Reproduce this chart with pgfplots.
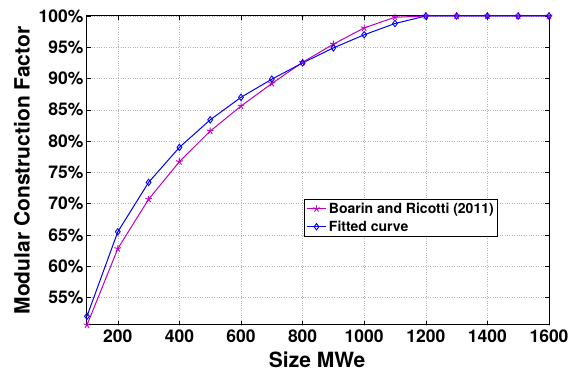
\documentclass[border=0pt]{standalone}
\usepackage{pgfplots}
\pgfplotsset{compat=1.18}
\usepackage{fontspec}
\setmainfont{TeX Gyre Heros}
\definecolor{mag}{rgb}{0.75,0,0.75}
\begin{document}
\begin{tikzpicture}
\begin{axis}[
  scale only axis,
  width=462pt, height=309pt,
  xmin=100, xmax=1600, ymin=50.6, ymax=100,
  xtick={200,400,...,1600},
  ytick={55,60,...,100},
  yticklabels={55\%,60\%,65\%,70\%,75\%,80\%,85\%,90\%,95\%,100\%},
  /pgf/number format/assume math mode=true,
  /pgf/number format/1000 sep={},
  tick label style={font=\fontsize{17.5}{18}\selectfont\bfseries},
  xticklabel style={yshift=-1pt},
  label style={font=\fontsize{21}{22}\selectfont\bfseries},
  xlabel={Size MWe},
  ylabel={Modular Construction Factor},
  xlabel style={at={(axis description cs:0.498,-0.113)}, anchor=center, inner sep=0pt},
  ylabel style={at={(axis description cs:-0.141,0.5)}, anchor=center, inner sep=0pt},
  grid=major,
  grid style={gray!60, dotted},
  tick align=inside,
  axis line style={line width=1pt},
  major tick length=4pt,
  tick style={black, line width=0.5pt},
  legend style={at={(0.47,0.408)}, anchor=north west, font=\fontsize{14}{15}\selectfont\bfseries, draw=black, line width=0.8pt, inner sep=1.5pt, row sep=2pt},
  legend image code/.code={\draw[mark repeat=2,mark phase=2] plot coordinates {(0cm,0cm) (0.35cm,0cm) (0.7cm,0cm)};},
  legend cell align=left,
]
\addplot[mag, line width=1pt, mark=star, mark size=3.5pt, mark options={line width=0.9pt}] coordinates {
(100,50.6) (200,62.8) (300,70.7) (400,76.7) (500,81.6) (600,85.6) (700,89.2) (800,92.6) (900,95.5) (1000,98.1) (1100,99.8) (1200,100) (1300,100) (1400,100) (1500,100) (1600,100)};
\addlegendentry{Boarin and Ricotti (2011)\hspace{16pt}}
\addplot[blue, line width=1pt, mark=diamond, mark size=3.2pt, mark options={line width=0.9pt}] coordinates {
(100,52.0) (200,65.5) (300,73.4) (400,79.0) (500,83.4) (600,87.0) (700,89.9) (800,92.5) (900,94.9) (1000,97.0) (1100,98.8) (1200,100) (1300,100) (1400,100) (1500,100) (1600,100)};
\addlegendentry{Fitted curve}
\end{axis}
\pgfresetboundingbox
\path[use as bounding box] ([xshift=-87pt,yshift=-47pt]current axis.south west) rectangle ([xshift=24pt,yshift=16pt]current axis.north east);
\end{tikzpicture}
\end{document}
